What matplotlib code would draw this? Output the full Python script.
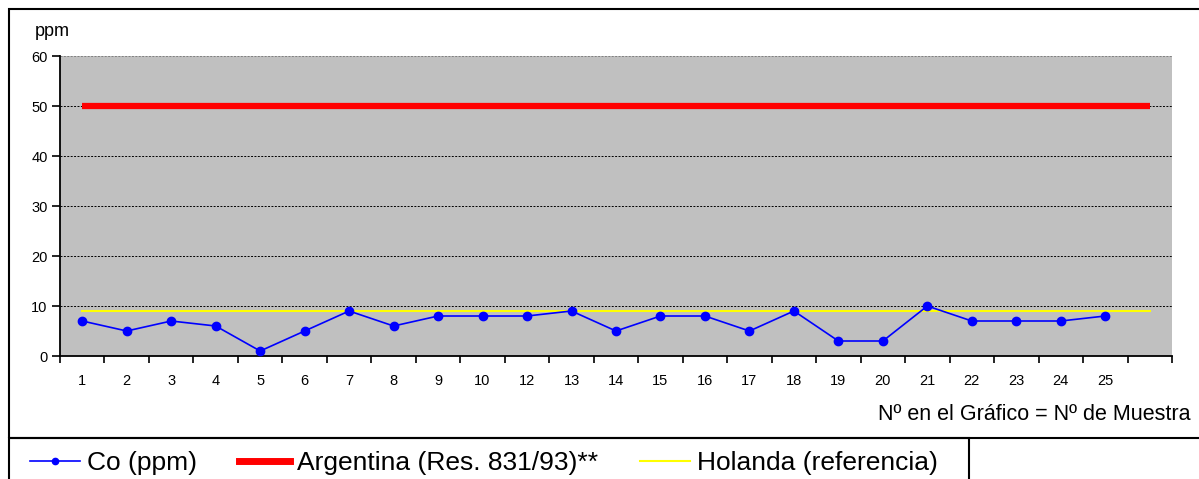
import numpy as np
import matplotlib.pyplot as plt
from matplotlib.patches import Rectangle
from matplotlib.lines import Line2D

plt.rcParams['font.family'] = ['Liberation Sans', 'DejaVu Sans']

# ---- data ----
sample_labels = ['1', '2', '3', '4', '5', '6', '7', '8', '9', '10', '12', '13', '14',
                 '15', '16', '17', '18', '19', '20', '21', '22', '23', '24', '25', '']
co_ppm = [7, 5, 7, 6, 1, 5, 9, 6, 8, 8, 8, 9, 5, 8, 8, 5, 9, 3, 3, 10, 7, 7, 7, 8]
argentina_limit = [50] * len(sample_labels)
holanda_ref = [9] * len(sample_labels)

W, H = 1199, 479
fig = plt.figure(figsize=(W / 100, H / 100), dpi=100)
ax = fig.add_axes([60 / W, 1 - 356 / H, (1172 - 60) / W, 300 / H])
ax.set_facecolor('#c0c0c0')

x_all = np.arange(len(sample_labels))
x_co = np.arange(len(co_ppm))

ax.plot(x_all, argentina_limit, color='#ff0000', lw=4.5, solid_capstyle='butt', zorder=3)
ax.plot(x_all, holanda_ref, color='#ffff00', lw=1.5, zorder=3)
ax.plot(x_co, co_ppm, color='#0000ff', lw=1.2, marker='o', ms=6, zorder=4)

ax.set_xlim(-0.5, len(sample_labels) - 0.5)
ax.set_ylim(0, 60)
ax.set_yticks(np.arange(0, 61, 10))
for yv in range(10, 61, 10):
    ax.axhline(yv, color='black' if yv < 60 else '#808080', lw=0.7,
               ls=(0, (2, 1.5)), zorder=1)

# ticks at category boundaries, labels centred
ax.set_xticks(np.arange(-0.5, len(sample_labels), 1.0))
ax.set_xticklabels([])
ax.set_xticks(x_all, minor=True)
ax.set_xticklabels(sample_labels, minor=True)
ax.tick_params(axis='x', which='major', length=5, width=1.2, direction='out')
ax.tick_params(axis='x', which='minor', length=0, pad=13, labelsize=10.5)
ax.tick_params(axis='y', length=6, width=1.2, direction='out', labelsize=10.5, pad=3)

for s in ['top', 'right']:
    ax.spines[s].set_visible(False)
for s in ['left', 'bottom']:
    ax.spines[s].set_linewidth(1.3)

fig.text(35 / W, 1 - 32 / H, 'ppm', fontsize=13, va='center', ha='left')
fig.text(1190 / W, 1 - 415 / H, 'Nº en el Gráfico = Nº de Muestra',
         fontsize=15.5, va='center', ha='right')

# outer chart frame
fig.patches.append(Rectangle((9 / W, 1 - 438 / H), 1.0, (438 - 9) / H,
                             transform=fig.transFigure, fill=False,
                             edgecolor='black', lw=1.5))
# legend frame (cut off at bottom, as in the original)
fig.patches.append(Rectangle((9 / W, -0.1), (969 - 9) / W, 0.1 + 1 - 438 / H,
                             transform=fig.transFigure, fill=False,
                             edgecolor='black', lw=1.5))

handles = [
    Line2D([], [], color='#0000ff', lw=1.2, marker='o', ms=4.5),
    Line2D([], [], color='#ff0000', lw=5),
    Line2D([], [], color='#ffff00', lw=1.5),
]
labels = ['Co (ppm)', 'Argentina (Res. 831/93)**', 'Holanda (referencia)']
fig.legend(handles, labels, loc='center left', bbox_to_anchor=(30 / W, 1 - 463 / H),
           ncol=3, frameon=False, fontsize=19, handlelength=1.9, handletextpad=0.27,
           columnspacing=1.6, borderaxespad=0, borderpad=0)

fig.savefig('out.png', dpi=100)
